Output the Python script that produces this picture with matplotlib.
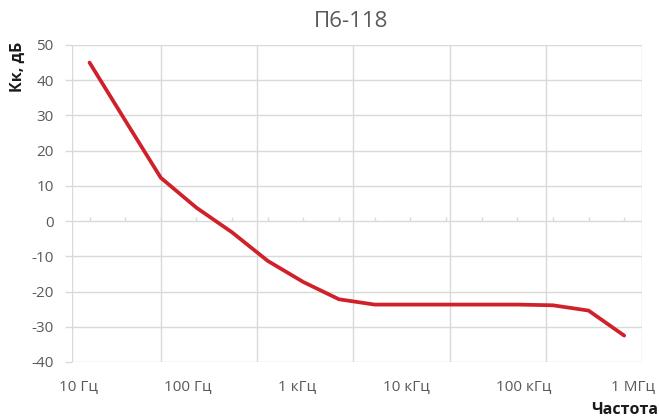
"""Кк vs frequency, П6-118"""

import matplotlib
matplotlib.use('Agg')
import matplotlib.pyplot as plt

plt.rcParams['font.family'] = ['Open Sans', 'DejaVu Sans']
plt.rcParams['axes.unicode_minus'] = False

# data (one point per frequency step)
kk_db = [45.0, 28.6, 12.3, 3.8, -3.2, -11.3, -17.3, -22.2,
         -23.7, -23.7, -23.7, -23.7, -23.7, -23.9, -25.4, -32.5]
freq_labels = ['10 Гц', '100 Гц', '1 кГц', '10 кГц', '100 кГц', '1 МГц']
y_ticks = list(range(-40, 51, 10))

# layout of labels and vertical grid (in point-index units)
label_pos = [-0.32, 2.75, 5.81, 8.88, 12.19, 15.24]
grid_pos = [-0.5, 2.0, 4.7, 7.4, 10.1, 12.8, 15.5]

GRID = '#d9d9d9'
TEXT = '#595959'

fig = plt.figure(figsize=(6.59, 4.2), dpi=100)
ax = fig.add_axes([0.1088, 0.1381, 0.8654, 0.7548])

points = list(range(len(kk_db)))

# grid
for y in y_ticks:
    ax.axhline(y, color=GRID, lw=1.0, zorder=1)
ax.set_xticks(grid_pos, minor=True)
ax.grid(True, which='minor', axis='x', color=GRID, lw=1.0, zorder=1)

# small tick marks on the zero line
ax.vlines(points, 0, 1.1, color=GRID, lw=1.0, zorder=1)

# the curve
ax.plot(points, kk_db, color='#d0212a', lw=2.7, solid_capstyle='round',
        solid_joinstyle='round', zorder=3)

ax.set_xlim(-0.5, 15.5)
ax.set_ylim(-40, 50)
ax.set_yticks(y_ticks)
ax.set_xticks(label_pos, freq_labels)

for s in ax.spines.values():
    s.set_visible(False)

ax.tick_params(axis='y', length=5, width=1.0, color=GRID, labelcolor=TEXT,
               labelsize=11, pad=8)
ax.tick_params(axis='x', which='major', length=0, labelcolor=TEXT,
               labelsize=11, pad=12)
ax.tick_params(axis='x', which='minor', length=0)

fig.text(0.5326, 0.948, 'П6-118', ha='center', va='center',
         fontsize=16, color=TEXT)
fig.text(0.0273, 0.840, 'Кк, дБ', ha='center', va='center', rotation=90,
         fontsize=11.5, fontweight='bold', color='#1a1a1a')
fig.text(0.948, 0.024, 'Частота', ha='center', va='center',
         fontsize=11.5, fontweight='bold', color='#1a1a1a')

fig.savefig('out.png', dpi=100)
